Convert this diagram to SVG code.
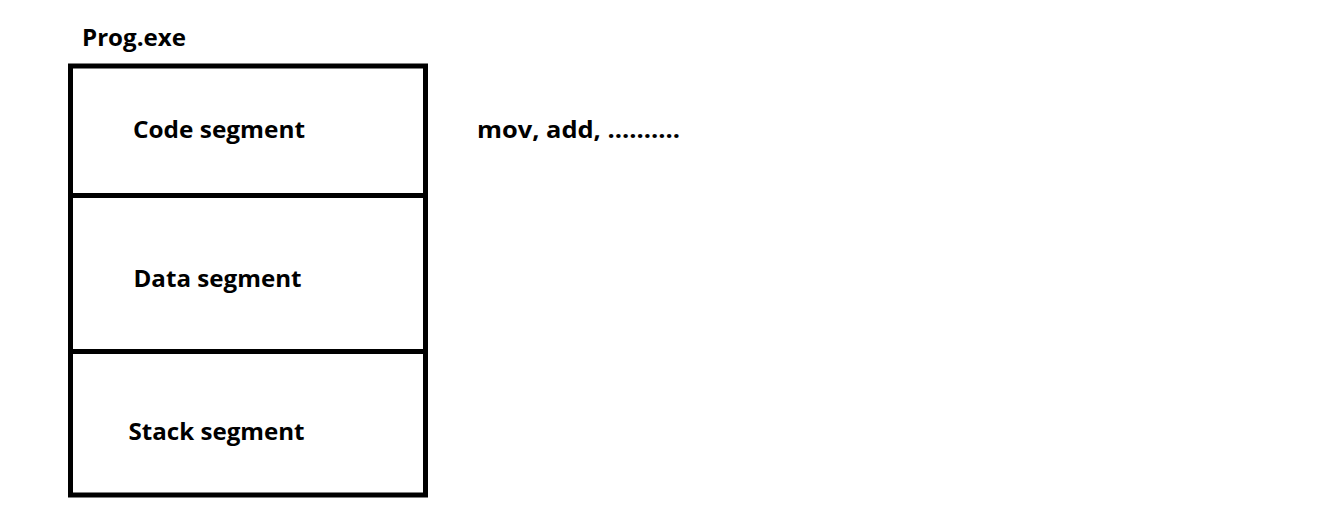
<svg xmlns="http://www.w3.org/2000/svg" width="1325" height="528" viewBox="0 0 1325 528">
<style>
.t{font-family:"Open Sans","Liberation Sans",sans-serif;font-weight:bold;font-size:24px;fill:#000}
.box{fill:none;stroke:#000;stroke-width:5}
</style>
<rect width="1325" height="528" fill="#fff"/>
<g id="title"><text class="t" x="82" y="46" textLength="104" lengthAdjust="spacingAndGlyphs">Prog.exe</text></g>
<g id="code-segment">
<rect class="box" x="70.5" y="66" width="355" height="129.5"/>
<text class="t" x="133" y="137.5" textLength="172" lengthAdjust="spacingAndGlyphs">Code segment</text>
</g>
<g id="data-segment">
<rect class="box" x="70.5" y="195.5" width="355" height="156"/>
<text class="t" x="133.5" y="286.5" textLength="168" lengthAdjust="spacingAndGlyphs">Data segment</text>
</g>
<g id="stack-segment">
<rect class="box" x="70.5" y="351.5" width="355" height="143.5"/>
<text class="t" x="128.5" y="439.5" textLength="176" lengthAdjust="spacingAndGlyphs">Stack segment</text>
</g>
<g id="code-note"><text class="t" x="477" y="138.3" textLength="203" lengthAdjust="spacingAndGlyphs">mov, add, ..........</text></g>
<g id="connectors"></g>
</svg>
